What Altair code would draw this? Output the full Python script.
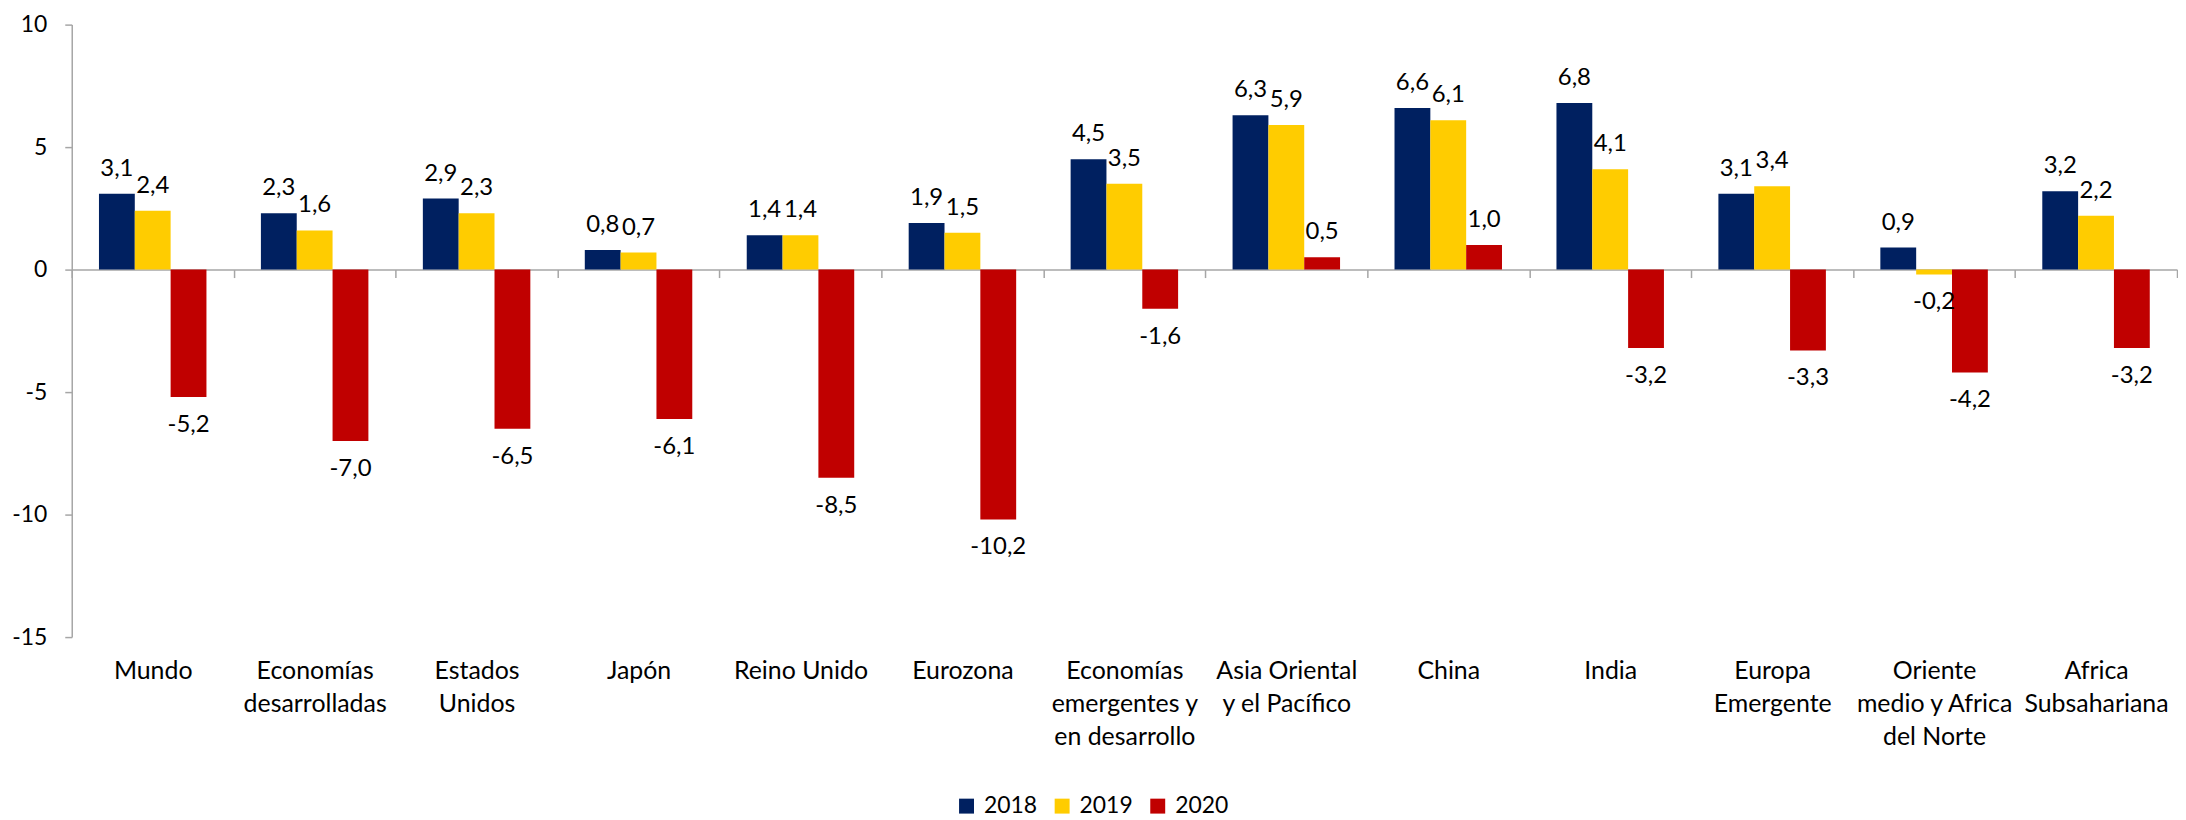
import altair as alt
import pandas as pd

categories = [
    "Mundo",
    "Economías|desarrolladas",
    "Estados|Unidos",
    "Japón",
    "Reino Unido",
    "Eurozona",
    "Economías|emergentes y|en desarrollo",
    "Asia Oriental|y el Pacífico",
    "China",
    "India",
    "Europa|Emergente",
    "Oriente|medio y Africa|del Norte",
    "Africa|Subsahariana",
]
years = ["2018", "2019", "2020"]
v2018 = [3.1, 2.3, 2.9, 0.8, 1.4, 1.9, 4.5, 6.3, 6.6, 6.8, 3.1, 0.9, 3.2]
v2019 = [2.4, 1.6, 2.3, 0.7, 1.4, 1.5, 3.5, 5.9, 6.1, 4.1, 3.4, -0.2, 2.2]
v2020 = [-5.2, -7.0, -6.5, -6.1, -8.5, -10.2, -1.6, 0.5, 1.0, -3.2, -3.3, -4.2, -3.2]
colors = ["#002060", "#FFCC00", "#C00000"]
y_ticks = [10, 5, 0, -5, -10, -15]

rows = []
for i, c in enumerate(categories):
    for yr, vals in zip(years, [v2018, v2019, v2020]):
        v = vals[i]
        rows.append({"cat": c, "year": yr, "value": v,
                     "label": f"{v:.1f}".replace(".", ",")})
df = pd.DataFrame(rows)

FONT = "Lato"
FS_X = 25
FS_Y = 23
FS_D = 24
FS_L = 23
GRAY = "#a6a6a6"

x_enc = alt.X(
    "cat:N", sort=categories,
    scale=alt.Scale(paddingInner=0, paddingOuter=0),
    axis=alt.Axis(
        title=None, orient="bottom", offset=-369,
        domainColor=GRAY, domainWidth=1.5,
        tickColor=GRAY, tickWidth=1.5, tickSize=8, tickBand="extent",
        labelAngle=0, labelPadding=383, labelFont=FONT, labelFontSize=FS_X,
        labelColor="black", labelExpr="split(datum.label, '|')",
        labelLineHeight=33, labelBaseline="top", labelAlign="center",
        labelOverlap=False, labelLimit=0,
    ),
)
xoff_enc = alt.XOffset("year:N", sort=years,
                       scale=alt.Scale(paddingInner=0, paddingOuter=0.76))
y_enc = alt.Y(
    "value:Q",
    scale=alt.Scale(domain=[-15, 10], nice=False, zero=False),
    axis=alt.Axis(
        title=None, values=y_ticks, grid=False,
        domainColor=GRAY, domainWidth=1.5,
        tickColor=GRAY, tickWidth=1.5, tickSize=7,
        labelPadding=18, labelFont=FONT, labelFontSize=FS_Y, labelColor="black",
        labelExpr="'' + datum.value",
    ),
)

base = alt.Chart(df)

bars = base.mark_bar().encode(
    x=x_enc, xOffset=xoff_enc, y=y_enc,
    color=alt.Color(
        "year:N",
        scale=alt.Scale(domain=years, range=colors),
        legend=alt.Legend(
            title=None, orient="none", legendX=887, legendY=773,
            direction="horizontal", symbolType="square", symbolSize=225,
            symbolStrokeWidth=0, labelFont=FONT, labelFontSize=FS_L,
            labelColor="black", labelOffset=6, columnPadding=13, padding=0,
        ),
    ),
)

pos_text = base.transform_filter("datum.value >= 0").mark_text(
    font=FONT, fontSize=FS_D, baseline="alphabetic", dy=-18, color="black"
).encode(x=x_enc, xOffset=xoff_enc, y=y_enc, text="label:N")

neg_text = base.transform_filter("datum.value < 0").mark_text(
    font=FONT, fontSize=FS_D, baseline="top", dy=16, color="black"
).encode(x=x_enc, xOffset=xoff_enc, y=y_enc, text="label:N")

chart = alt.layer(bars, pos_text, neg_text).properties(
    width=2114, height=615,
    padding={"left": 3, "top": 4, "right": 0, "bottom": 0},
    background="white",
).configure_view(stroke=None)

chart.save("out.html", embed_options={"renderer": "svg", "actions": False})
